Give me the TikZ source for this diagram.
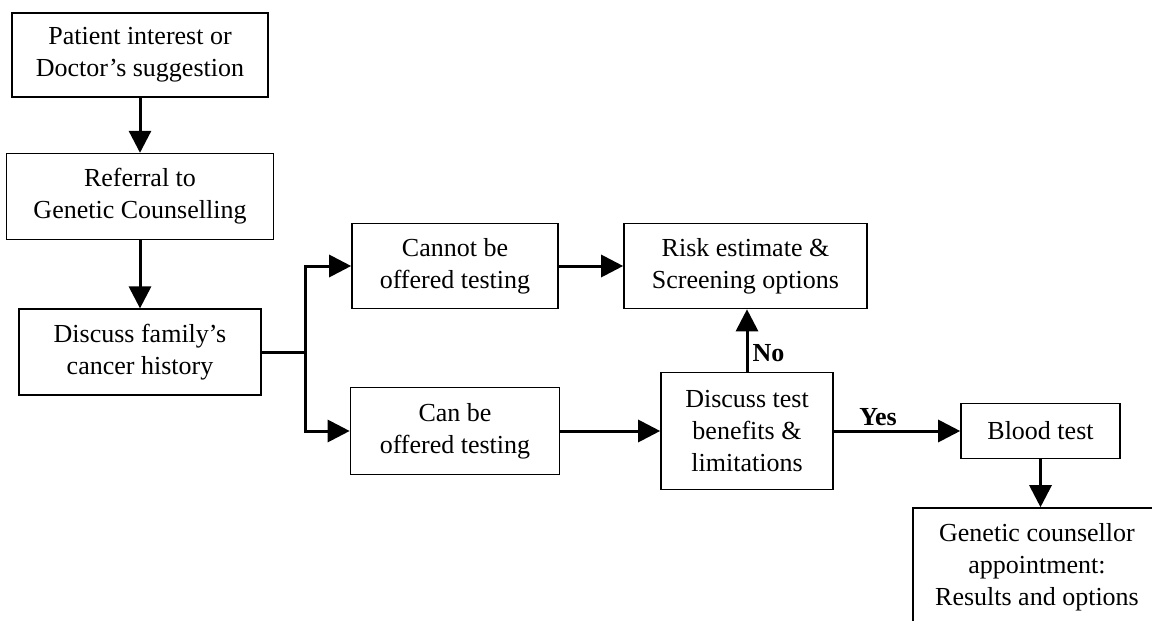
\documentclass[tikz,border=0pt]{standalone}
\usepackage{fontspec}
\setmainfont{Liberation Serif}
\usepackage{tikz}
\usetikzlibrary{positioning,arrows.meta}

\tikzset{
  box/.style={draw, line width=0.8pt, align=center, inner sep=0pt, font=\fontsize{13}{16}\selectfont},
  arr/.style={line width=1.5pt, -{Triangle[length=11pt,width=11pt]}},
  lbl/.style={font=\fontsize{13}{16}\selectfont\bfseries, inner sep=2pt}
}

\begin{document}
\begin{tikzpicture}[x=0.5pt,y=-0.5pt]
            \useasboundingbox (0,0) rectangle (1152,621);
            \clip (0,0) rectangle (1152,621);

            \node (interest) [box, minimum width=128pt, minimum height=42pt] at (140,55) {Patient interest or\\Doctor's suggestion};
            \node (referral) [box, minimum width=133.5pt, minimum height=43pt, below=27.5pt of interest] {Referral to\\Genetic Counselling};
            \node (history) [box, minimum width=121pt, minimum height=43pt, below=34pt of referral] {Discuss family's\\cancer history};

            \node (cannot) [box, minimum width=103pt, minimum height=42.5pt] at (455,266) {Cannot be\\offered testing};
            \node (can) [box, minimum width=104.5pt, minimum height=43.5pt] at (455,431) {Can be\\offered testing};
            \node (risk) [box, minimum width=121.5pt, minimum height=42.5pt] at (745.5,266) {Risk estimate \&\\Screening options};
            \node (discuss) [box, minimum width=86pt, minimum height=58.5pt] at (747,431) {Discuss test\\benefits \&\\limitations};
            \node (blood) [box, minimum width=79.5pt, minimum height=27.5pt] at (1040.5,431) {Blood test};
            \node (results) [box, minimum width=124pt, minimum height=59pt] at (1037,567) {Genetic counsellor\\appointment:\\Results and options};

            \draw[arr] (interest) -- (referral);
            \draw[arr] (referral) -- (history);
            \draw[line width=1.5pt] (history.east) -- ++(44,0) coordinate (split);
            \draw[arr] (split) |- (cannot.west);
            \draw[arr] (split) |- (can.west);
            \draw[arr] (cannot) -- (risk);
            \draw[arr] (can) -- (discuss);
            \draw[arr] (discuss.north) -- node[lbl, right, pos=0.3] {No} (discuss.north |- risk.south);
            \draw[arr] (discuss) -- node[lbl, above, pos=0.35] {Yes} (blood);
            \draw[arr] (blood.south) -- (blood.south |- results.north);
        \end{tikzpicture}
\end{document}
